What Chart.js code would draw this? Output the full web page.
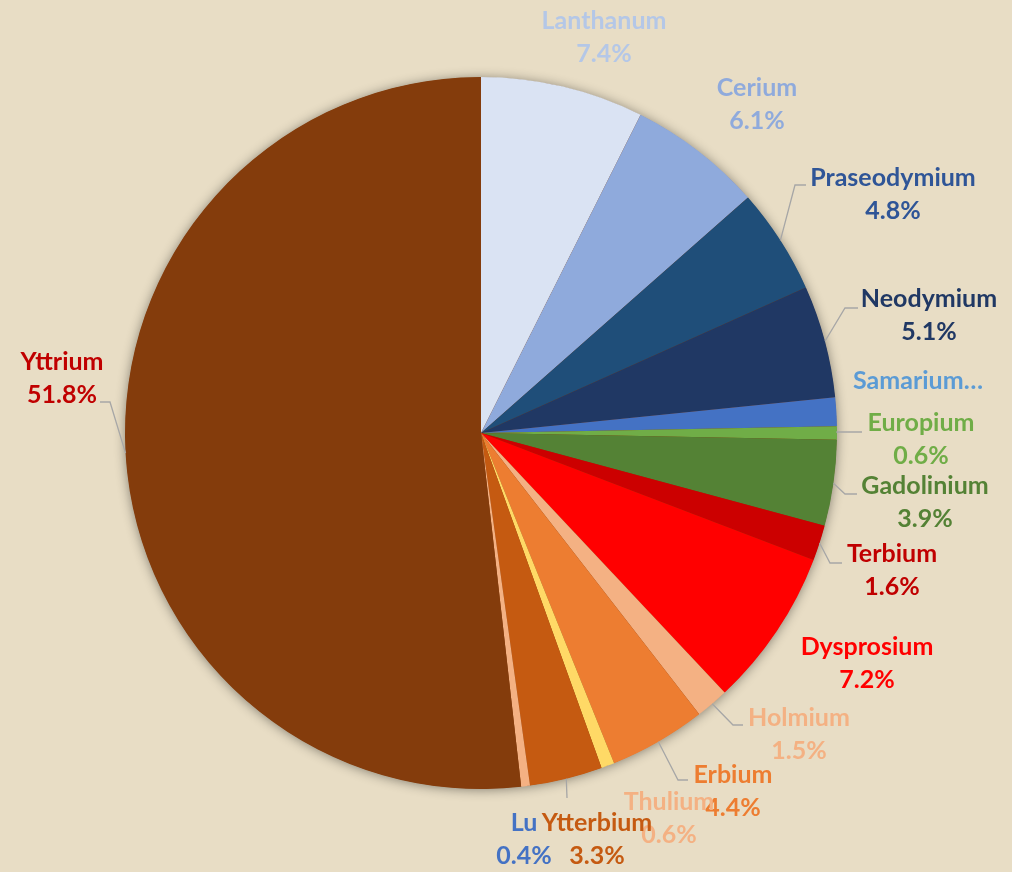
<!DOCTYPE html>
<html>
<head>
<meta charset="utf-8">
<script src="https://cdn.jsdelivr.net/npm/chart.js@4.4.0/dist/chart.umd.min.js"></script>
<style>
  html, body { margin: 0; padding: 0; background: #E8DDC5; }
  #wrap { width: 1012px; height: 872px; position: relative; }
</style>
</head>
<body>
<div id="wrap"><canvas id="c"></canvas></div>
<script>
// ---- data ----
const categories = ["Lanthanum","Cerium","Praseodymium","Neodymium","Samarium","Europium","Gadolinium","Terbium","Dysprosium","Holmium","Erbium","Thulium","Ytterbium","Lu","Yttrium"];
const shares = [7.4, 6.1, 4.8, 5.1, 1.3, 0.6, 3.9, 1.6, 7.2, 1.5, 4.4, 0.6, 3.3, 0.4, 51.8];
const sliceColors = ["#DAE3F3","#8FAADC","#1F4E79","#203864","#4472C4","#70AD47","#548235","#CC0000","#FF0000","#F4B183","#ED7D31","#FFD966","#C55A11","#F4B183","#843C0C"];
const labelColors = ["#B4C7E7","#8FAADC","#2F5597","#203864","#5B9BD5","#70AD47","#548235","#C00000","#FF0000","#F4B183","#ED7D31","#F4B183","#C55A11","#4472C4","#C00000"];

// ---- label layout (offsets from pie centre; leader elbow/end offsets) ----
const labelPos = [
  [123,-412],[276,-345],[412,-255],[448,-134],[437,-52],[440,-10],[444,53],
  [411,121],[386,214],[318,285],[252,342],[188,369],[116,390],[43,390],[-419,-71]
];
const truncated = [false,false,false,false,true,false,false,false,false,false,false,false,false,false,false];
const leaders = [
  null, null,
  [[314,-248],[325,-248]],
  [[364,-125],[377,-125]],
  null,
  [[356,-1],[381,-1]],
  [[364,61],[376,61]],
  [[349,130],[361,130]],
  null,
  [[252,292],[262,292]],
  [[197,347],[207,347]],
  null,
  [[86,365],[86,365]],
  null,
  [[-371,-31],[-381,-31]]
];

const labelPlugin = {
  id: 'excelLabels',
  beforeDatasetsDraw(chart) {
    const arc = chart.getDatasetMeta(0).data[0];
    const ctx = chart.ctx;
    ctx.save();
    ctx.shadowColor = 'rgba(0,0,0,0.45)';
    ctx.shadowBlur = 12;
    ctx.shadowOffsetX = 0;
    ctx.shadowOffsetY = 1;
    ctx.fillStyle = '#843C0C';
    ctx.beginPath();
    ctx.arc(arc.x, arc.y, arc.outerRadius - 0.5, 0, Math.PI * 2);
    ctx.fill();
    ctx.restore();
  },
  afterDatasetsDraw(chart) {
    const ctx = chart.ctx;
    const meta = chart.getDatasetMeta(0);
    const cx = meta.data[0].x, cy = meta.data[0].y;
    ctx.save();
    // leaders
    ctx.strokeStyle = '#A6A6A6';
    ctx.lineWidth = 1.3;
    meta.data.forEach((a, i) => {
      const L = leaders[i];
      if (!L) return;
      const mid = (a.startAngle + a.endAngle) / 2;
      const sx = cx + Math.cos(mid) * a.outerRadius;
      const sy = cy + Math.sin(mid) * a.outerRadius;
      ctx.beginPath();
      ctx.moveTo(sx, sy);
      ctx.lineTo(cx + L[0][0], cy + L[0][1]);
      ctx.lineTo(cx + L[1][0], cy + L[1][1]);
      ctx.stroke();
    });
    // labels
    ctx.font = 'bold 25px Lato';
    ctx.textAlign = 'center';
    ctx.textBaseline = 'middle';
    for (let i = 0; i < categories.length; i++) {
      const [dx, dy] = labelPos[i];
      ctx.fillStyle = labelColors[i];
      if (truncated[i]) {
        ctx.fillText(categories[i] + '\u2026', cx + dx, cy + dy);
      } else {
        ctx.fillText(categories[i], cx + dx, cy + dy);
        ctx.fillText(shares[i].toFixed(1) + '%', cx + dx, cy + dy + 33);
      }
    }
    ctx.restore();
  }
};

new Chart(document.getElementById('c'), {
  type: 'pie',
  data: {
    labels: categories,
    datasets: [{
      data: shares,
      backgroundColor: sliceColors,
      borderWidth: 0
    }]
  },
  options: {
    responsive: true,
    maintainAspectRatio: false,
    animation: false,
    layout: { padding: { top: 77, bottom: 83, left: 100, right: 150 } },
    plugins: {
      legend: { display: false },
      tooltip: { enabled: false }
    }
  },
  plugins: [labelPlugin]
});
</script>
</body>
</html>
